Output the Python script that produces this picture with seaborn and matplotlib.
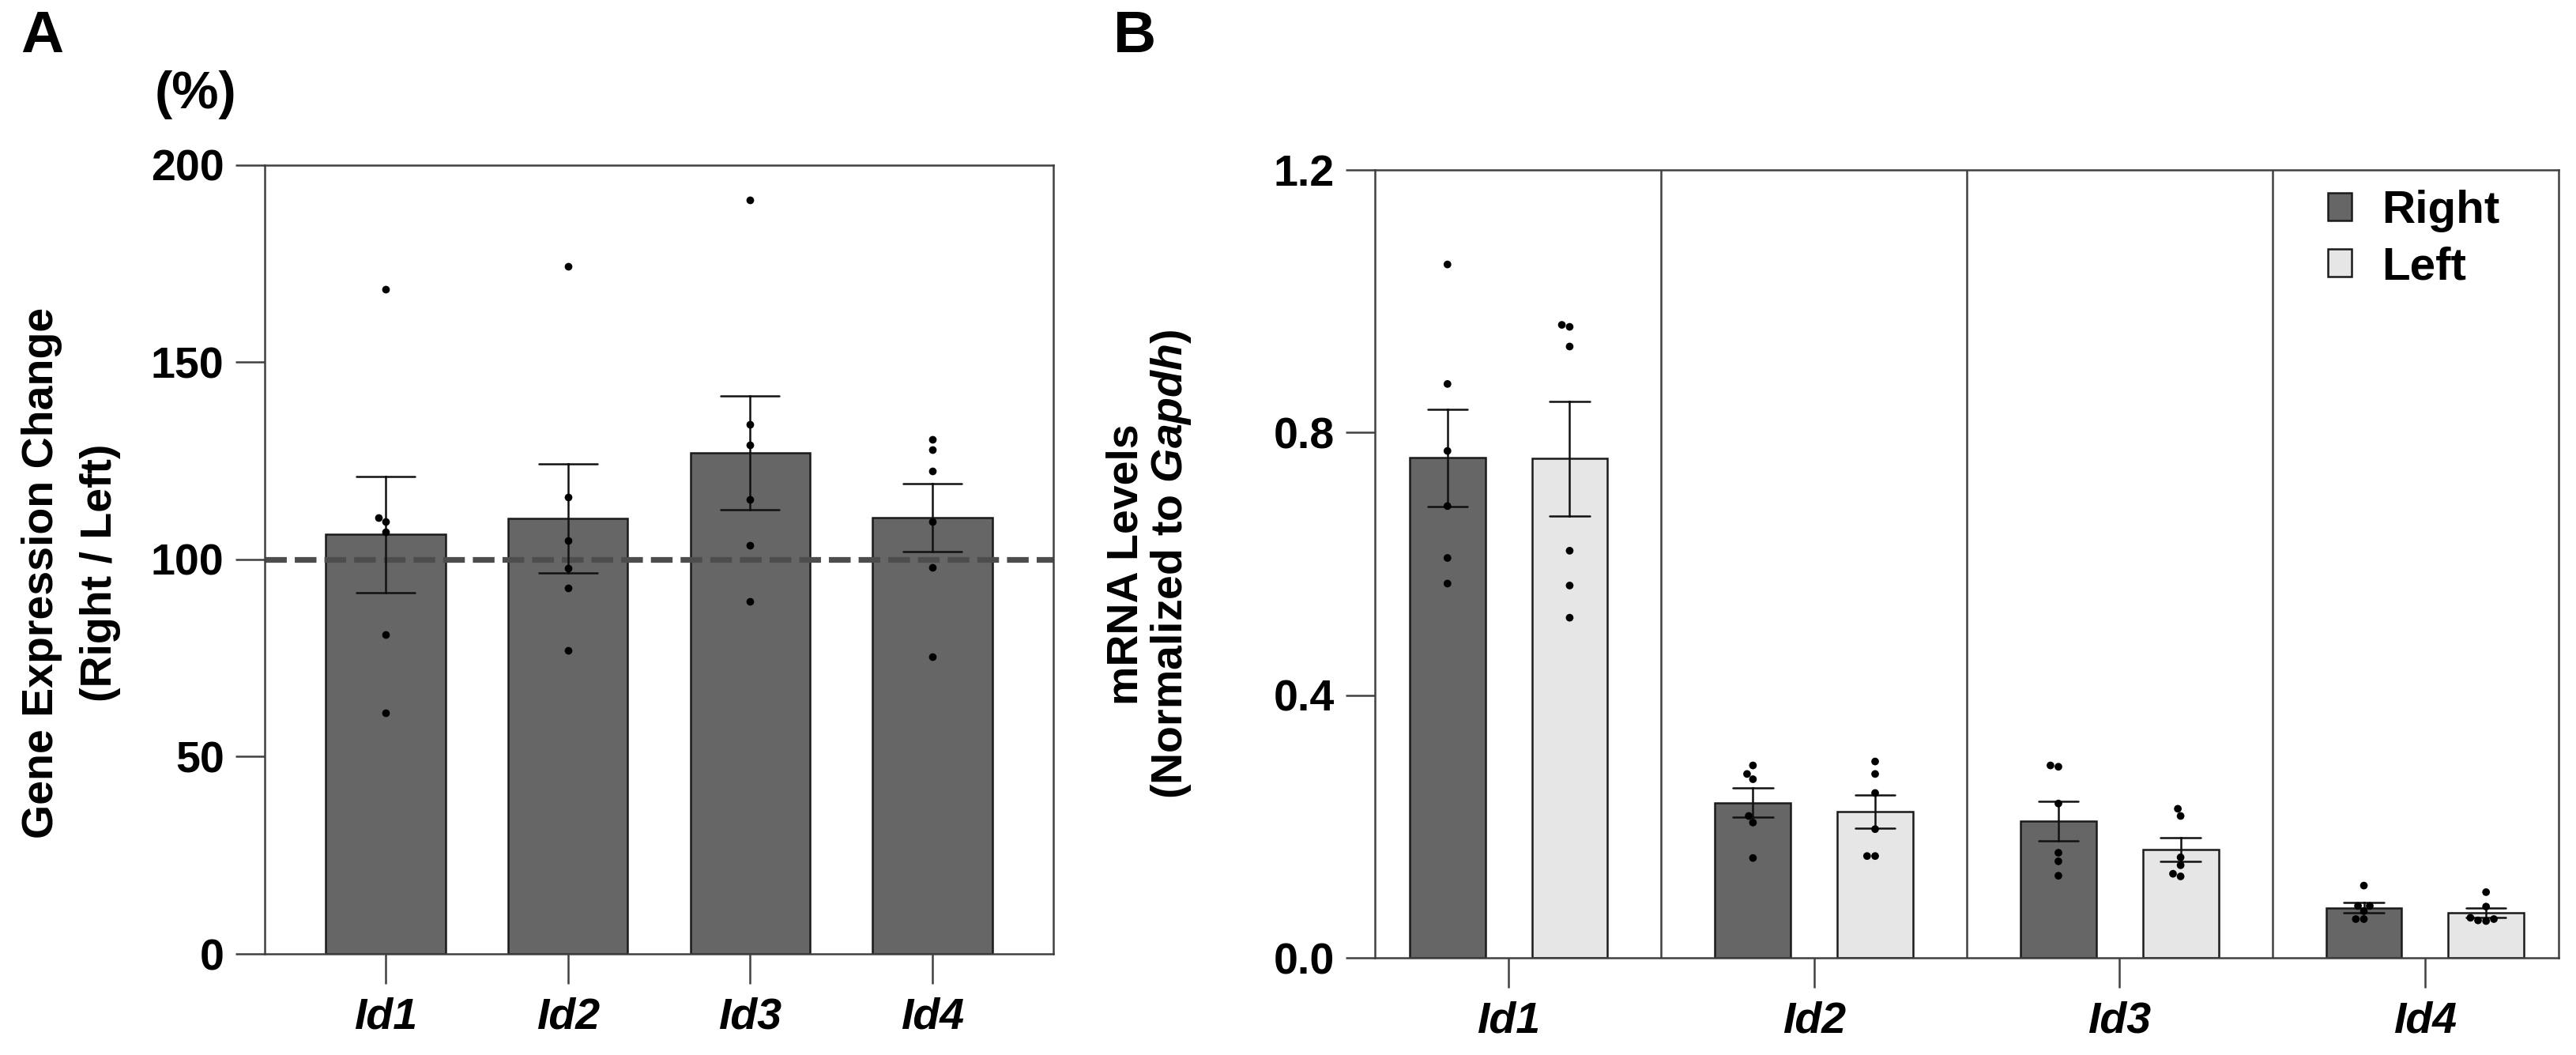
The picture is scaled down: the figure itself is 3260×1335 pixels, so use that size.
import matplotlib
matplotlib.use("Agg")
import matplotlib.pyplot as plt
from matplotlib.patches import Patch
from matplotlib.ticker import FormatStrFormatter
import seaborn as sns
import pandas as pd

# gene names and sides
genes = ["Id1", "Id2", "Id3", "Id4"]
sides = ["Right", "Left"]

# panel A: right / left ratio per animal (%)
ratio_id1 = [168.5, 110.6, 109.7, 107.0, 80.9, 61.2]
ratio_id2 = [174.4, 115.8, 104.8, 97.8, 92.8, 77.0]
ratio_id3 = [191.1, 134.2, 129.0, 115.3, 103.6, 89.3]
ratio_id4 = [130.5, 127.9, 122.5, 109.7, 98.0, 75.3]

# panel B: mRNA levels normalized to Gapdh
right_id1 = [1.056, 0.874, 0.772, 0.688, 0.609, 0.570]
left_id1 = [0.964, 0.961, 0.931, 0.620, 0.567, 0.518]
right_id2 = [0.293, 0.280, 0.272, 0.216, 0.206, 0.152]
left_id2 = [0.299, 0.280, 0.251, 0.196, 0.155, 0.155]
right_id3 = [0.293, 0.291, 0.235, 0.160, 0.147, 0.125]
left_id3 = [0.227, 0.216, 0.153, 0.141, 0.128, 0.124]
right_id4 = [0.110, 0.079, 0.079, 0.071, 0.059, 0.059]
left_id4 = [0.100, 0.078, 0.061, 0.059, 0.057, 0.056]

a_ticks = [0, 50, 100, 150, 200]
b_ticks = [0.0, 0.4, 0.8, 1.2]

# long-form tables
ratios = [ratio_id1, ratio_id2, ratio_id3, ratio_id4]
df_a = pd.DataFrame(
    [(g, v) for g, vals in zip(genes, ratios) for v in vals],
    columns=["gene", "ratio"],
)
levels = {
    ("Id1", "Right"): right_id1, ("Id1", "Left"): left_id1,
    ("Id2", "Right"): right_id2, ("Id2", "Left"): left_id2,
    ("Id3", "Right"): right_id3, ("Id3", "Left"): left_id3,
    ("Id4", "Right"): right_id4, ("Id4", "Left"): left_id4,
}
df_b = pd.DataFrame(
    [(g, s, v) for (g, s), vals in levels.items() for v in vals],
    columns=["gene", "side", "level"],
)

sns.set_theme(style="white")
plt.rcParams["font.family"] = ["Liberation Sans", "DejaVu Sans"]
plt.rcParams["font.weight"] = "bold"
plt.rcParams["text.color"] = "black"
plt.rcParams["axes.labelcolor"] = "black"
plt.rcParams["xtick.color"] = "black"
plt.rcParams["ytick.color"] = "black"
plt.rcParams["mathtext.fontset"] = "custom"
plt.rcParams["mathtext.bfit"] = "Liberation Sans:bold:italic"
plt.rcParams["mathtext.it"] = "Liberation Sans:bold:italic"
plt.rcParams["mathtext.rm"] = "Liberation Sans:bold"

dark = "#666666"
light = "#e6e6e6"
spine_c = "#404040"
lw = 1.8
tick_fs = 40

fig = plt.figure(figsize=(32.6, 13.35), dpi=100)
ax_a = fig.add_axes([0.10276, 0.09588, 0.30613, 0.74757])
ax_b = fig.add_axes([0.53374, 0.09213, 0.45951, 0.74682])

# ---- panel A ----
sns.barplot(data=df_a, x="gene", y="ratio", order=genes, ax=ax_a,
            color=dark, saturation=1, width=0.655,
            edgecolor="#1a1a1a", linewidth=lw,
            errorbar="se", capsize=0.32,
            err_kws={"color": "#111111", "linewidth": lw, "zorder": 3})
ax_a.axhline(100, color="#4d4d4d", lw=5.2, dashes=(3.8, 1.4), zorder=2.5)
sns.swarmplot(data=df_a, x="gene", y="ratio", order=genes, ax=ax_a,
              color="black", size=7, zorder=4)
ax_a.set_xlim(-0.663, 3.663)
ax_a.set_ylim(0, 200)
ax_a.set_yticks(a_ticks)

# ---- panel B ----
pal = {"Right": dark, "Left": light}
sns.barplot(data=df_b, x="gene", y="level", hue="side", order=genes,
            hue_order=sides, palette=pal, saturation=1, ax=ax_b,
            width=0.8, gap=0.38, edgecolor="#1a1a1a", linewidth=lw,
            errorbar="se", capsize=0.26, legend=False,
            err_kws={"color": "#111111", "linewidth": lw, "zorder": 3})
sns.swarmplot(data=df_b, x="gene", y="level", hue="side", order=genes,
              hue_order=sides, dodge=True, ax=ax_b, palette=["black", "black"],
              size=7, legend=False, zorder=4)
ax_b.set_xlim(-0.4375, 3.4375)
ax_b.set_ylim(0, 1.2)
ax_b.set_yticks(b_ticks)
ax_b.yaxis.set_major_formatter(FormatStrFormatter("%.1f"))
for xd in [0.5, 1.5, 2.5]:
    ax_b.axvline(xd, color=spine_c, lw=lw, zorder=1.5)

handles = [Patch(facecolor=pal[s], edgecolor="#1a1a1a", linewidth=lw) for s in sides]
ax_b.legend(handles, sides, loc="upper left", bbox_to_anchor=(0.805, 0.975),
            frameon=False, handlelength=0.52, handleheight=0.55,
            handletextpad=0.65, labelspacing=0.3, borderpad=0, borderaxespad=0,
            prop={"weight": "bold", "size": 42})

# ---- common styling ----
for ax in (ax_a, ax_b):
    ax.set_xlabel("")
    ax.set_ylabel("")
    for sp in ax.spines.values():
        sp.set_visible(True)
        sp.set_color(spine_c)
        sp.set_linewidth(lw)
    ax.tick_params(axis="both", direction="out", length=27, width=lw,
                   color=spine_c, labelcolor="black", labelsize=tick_fs,
                   left=True, bottom=True)
    ax.tick_params(axis="y", pad=10)
    ax.tick_params(axis="x", pad=12)
    for lab in ax.get_xticklabels():
        lab.set_fontstyle("italic")
        lab.set_fontweight("bold")
    for lab in ax.get_yticklabels():
        lab.set_fontweight("bold")

# labels and panel letters
fig.text(90 / 3260, 1 - 725 / 1335, "Gene Expression Change\n(Right / Left)",
         rotation=90, ha="center", va="center", fontsize=40,
         fontweight="bold", linespacing=1.55)
fig.text(247 / 3260, 1 - 120 / 1335, "(%)", ha="center", va="center",
         fontsize=48, fontweight="bold")
fig.text(1455 / 3260, 1 - 714 / 1335,
         "mRNA Levels\n(Normalized to $\\mathbfit{Gapdh}$)",
         rotation=90, ha="center", va="center", fontsize=40,
         fontweight="bold", linespacing=1.05)
fig.text(53 / 3260, 1 - 47 / 1335, "A", ha="center", va="center",
         fontsize=54, fontweight="bold")
fig.text(1436 / 3260, 1 - 47 / 1335, "B", ha="center", va="center",
         fontsize=54, fontweight="bold")

fig.savefig("out.png", dpi=100)
